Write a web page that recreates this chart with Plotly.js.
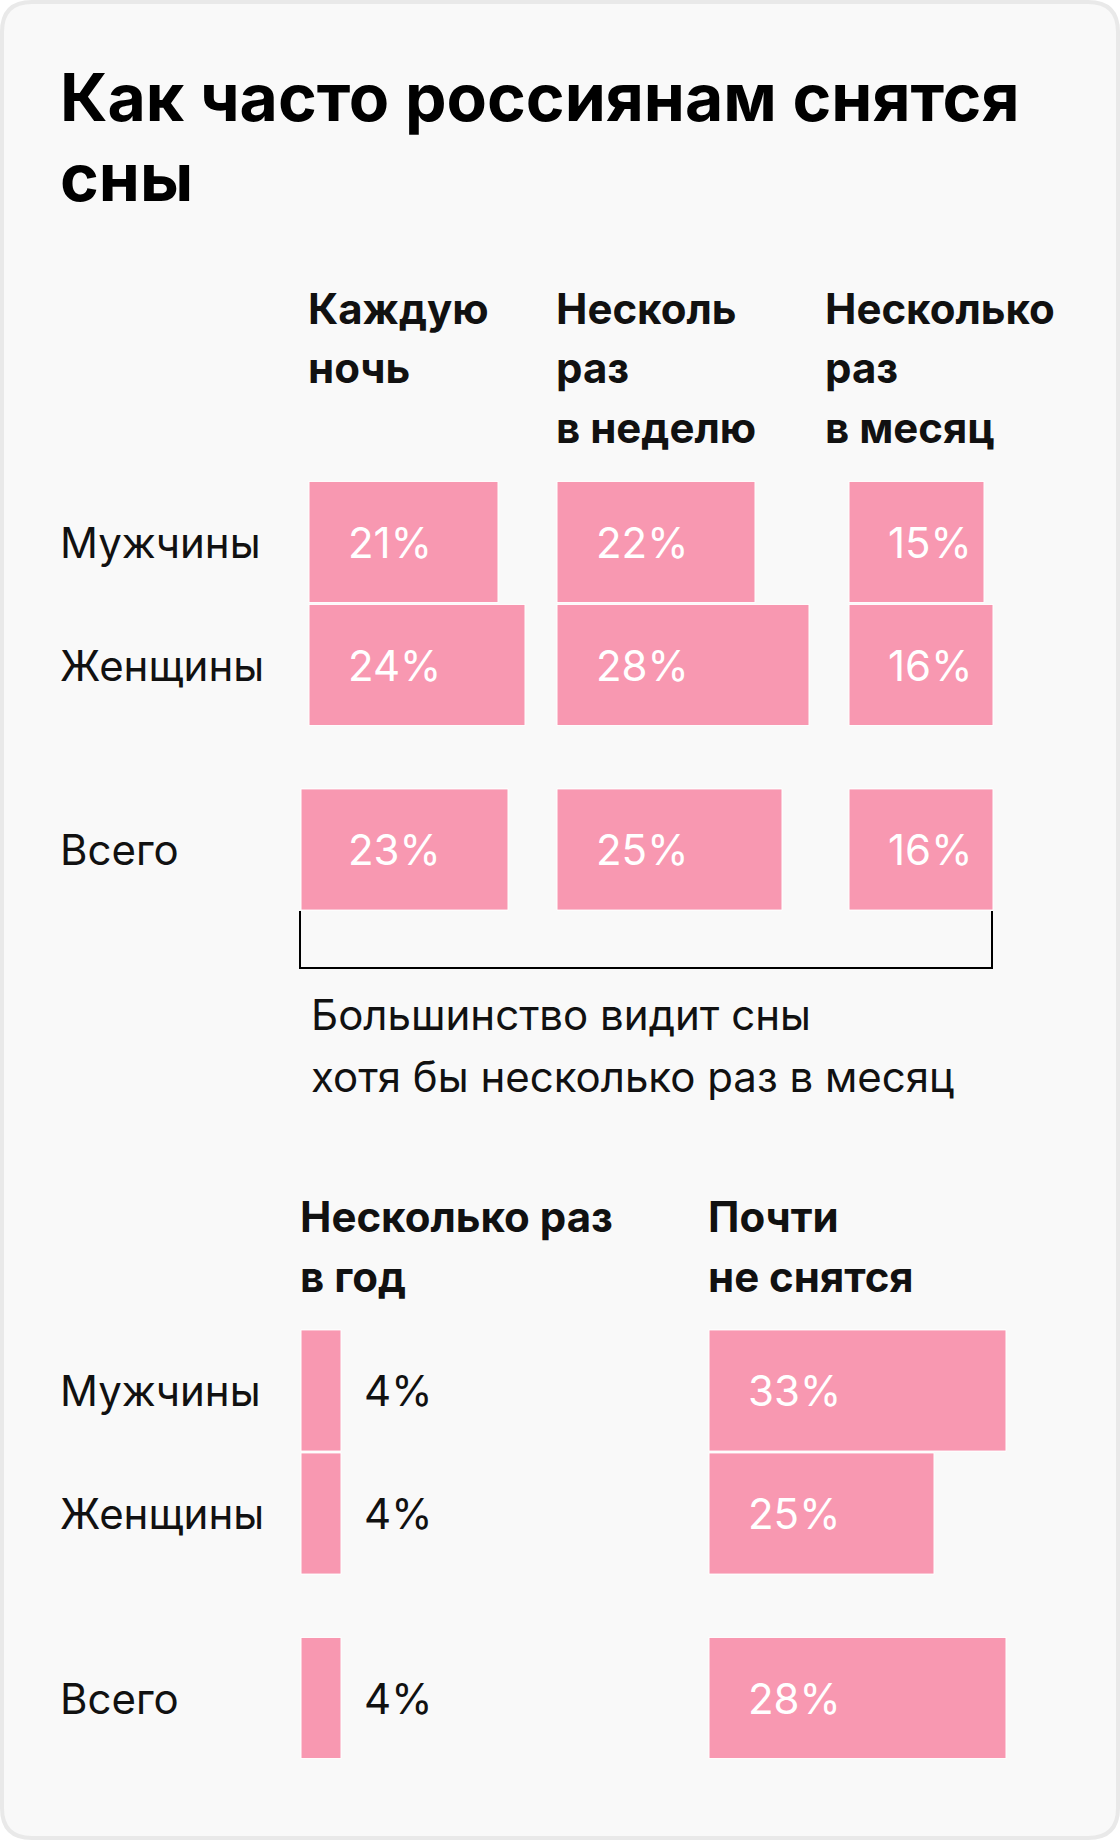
<!DOCTYPE html>
<html>
<head>
<meta charset="utf-8">
<script src="https://cdn.plot.ly/plotly-3.0.1.min.js"></script>
<style>
  html, body { margin: 0; padding: 0; background: #ffffff; }
  #chart { width: 1120px; height: 1840px; }
</style>
</head>
<body>
<div id="chart"></div>
<script>
// ---- data ----
const titleLines = ['Как часто россиянам снятся', 'сны'];
const categories = ['Каждую ночь', 'Несколько раз в неделю', 'Несколько раз в месяц', 'Несколько раз в год', 'Почти не снятся'];
const headerLines = [
  ['Каждую', 'ночь'],
  ['Несколь', 'раз', 'в неделю'],
  ['Несколько', 'раз', 'в месяц'],
  ['Несколько раз', 'в год'],
  ['Почти', 'не снятся']
];
const groups = ['Мужчины', 'Женщины', 'Всего'];
const men   = [21, 22, 15, 4, 33];
const women = [24, 28, 16, 4, 25];
const total = [23, 25, 16, 4, 28];
// bar lengths of the "Всего" row as drawn in the picture
const totalDrawn = [23, 25, 16, 4, 33];
const noteLines = ['Большинство видит сны', 'хотя бы несколько раз в месяц'];

// ---- layout / style ----
const W = 1120, H = 1840;
const PINK = '#f898b1';
const FONT = 'Inter, Roboto, sans-serif';
const rowPos = [0, 1, 2.5];
const colStart = [309, 557, 849, 301, 709];
const headerX = [309, 557, 826, 301, 709];
const colWidth = [240, 270, 160, 300, 380];
const pxPerUnit = [9, 9, 9, 10, 9];
const totalShiftPx = [-8, 0, 0, 0, 0];
const colSection = [0, 0, 0, 1, 1];
const insideLabel = [true, true, true, false, true];
const secTop = [480.5, 1329];
const secBottom = [911, 1759.5];
const PAD = 12;   // extra room left of each column's zero
const TX = -3;    // annotation padding compensation

const px = v => v / W;
const py = v => 1 - v / H;

const traces = [];
const layout = {
  width: W, height: H,
  margin: {l: 0, r: 0, t: 0, b: 0},
  paper_bgcolor: '#ffffff',
  plot_bgcolor: 'rgba(0,0,0,0)',
  showlegend: false,
  bargap: 0,
  font: {family: FONT, color: '#000000'},
  annotations: [],
  shapes: []
};

['yaxis', 'yaxis2'].forEach((name, s) => {
  layout[name] = {
    domain: [py(secBottom[s]), py(secTop[s])],
    range: [3, -0.5],
    visible: false, fixedrange: true
  };
});

categories.forEach((cat, i) => {
  const xa = i === 0 ? 'x' : 'x' + (i + 1);
  const ya = colSection[i] === 0 ? 'y' : 'y2';
  layout[i === 0 ? 'xaxis' : 'xaxis' + (i + 1)] = {
    domain: [px(colStart[i] - PAD), px(colStart[i] + colWidth[i])],
    range: [-PAD / pxPerUnit[i], colWidth[i] / pxPerUnit[i]],
    anchor: ya,
    visible: false, fixedrange: true
  };
  const vals = [men[i], women[i], totalDrawn[i]];
  const labels = [men[i], women[i], total[i]];
  const shift = totalShiftPx[i] / pxPerUnit[i];
  traces.push({
    type: 'bar', orientation: 'h',
    x: vals, y: rowPos,
    base: [0, 0, shift],
    xaxis: xa, yaxis: ya,
    width: 0.985,
    marker: {color: PINK, line: {color: '#ffffff', width: 1}},
    hoverinfo: 'skip', name: cat
  });
  labels.forEach((v, r) => {
    layout.annotations.push({
      xref: xa, yref: ya,
      x: insideLabel[i] ? 0 : vals[r],
      y: rowPos[r],
      xshift: (insideLabel[i] ? 40 : 24) + TX,
      xanchor: 'left', yanchor: 'middle',
      text: v + '%', showarrow: false,
      font: {family: FONT, size: 42, color: insideLabel[i] ? '#ffffff' : '#111111'}
    });
  });
  const base = colSection[i] === 0 ? 323 : 1231.5;
  headerLines[i].forEach((ln, k) => {
    layout.annotations.push({
      xref: 'paper', yref: 'paper',
      x: px(headerX[i]), xshift: TX, y: py(base + k * 59.5 - 15),
      xanchor: 'left', yanchor: 'middle',
      text: '<b>' + ln + '</b>', showarrow: false,
      font: {family: FONT, size: 42, color: '#111111'}
    });
  });
});

[0, 1].forEach(s => {
  const ya = s === 0 ? 'y' : 'y2';
  groups.forEach((g, r) => {
    layout.annotations.push({
      xref: 'paper', yref: ya,
      x: px(61), xshift: TX, y: rowPos[r],
      xanchor: 'left', yanchor: 'middle',
      text: g, showarrow: false,
      font: {family: FONT, size: 42, color: '#111111'}
    });
  });
});

titleLines.forEach((t, k) => {
  layout.annotations.push({
    xref: 'paper', yref: 'paper',
    x: px(61), xshift: TX, y: py(120 + k * 80 - 23),
    xanchor: 'left', yanchor: 'middle',
    text: '<b>' + t + '</b>', showarrow: false,
    font: {family: FONT, size: 66, color: '#000000'}
  });
});

noteLines.forEach((t, k) => {
  layout.annotations.push({
    xref: 'paper', yref: 'paper',
    x: px(312), xshift: TX, y: py(1030 + k * 61 - 15),
    xanchor: 'left', yanchor: 'middle',
    text: t, showarrow: false,
    font: {family: FONT, size: 42, color: '#111111'}
  });
});

function roundRect(x0, y0, x1, y1, r) {
  const P = (x, y) => px(x) + ',' + py(y);
  return 'M' + P(x0 + r, y0) + ' L' + P(x1 - r, y0) + ' Q' + P(x1, y0) + ' ' + P(x1, y0 + r) +
    ' L' + P(x1, y1 - r) + ' Q' + P(x1, y1) + ' ' + P(x1 - r, y1) +
    ' L' + P(x0 + r, y1) + ' Q' + P(x0, y1) + ' ' + P(x0, y1 - r) +
    ' L' + P(x0, y0 + r) + ' Q' + P(x0, y0) + ' ' + P(x0 + r, y0) + ' Z';
}
layout.shapes.push({
  type: 'path', xref: 'paper', yref: 'paper', layer: 'below',
  path: roundRect(2, 2, 1118, 1838, 30),
  fillcolor: '#f9f9f9', line: {color: '#e9e9e9', width: 4}
});
layout.shapes.push({
  type: 'path', xref: 'paper', yref: 'paper', layer: 'above',
  path: 'M' + px(300) + ',' + py(911) + ' L' + px(300) + ',' + py(968) +
        ' L' + px(992) + ',' + py(968) + ' L' + px(992) + ',' + py(911),
  line: {color: '#000000', width: 2}
});

Plotly.newPlot('chart', traces, layout, {displayModeBar: false, staticPlot: true});
</script>
</body>
</html>
